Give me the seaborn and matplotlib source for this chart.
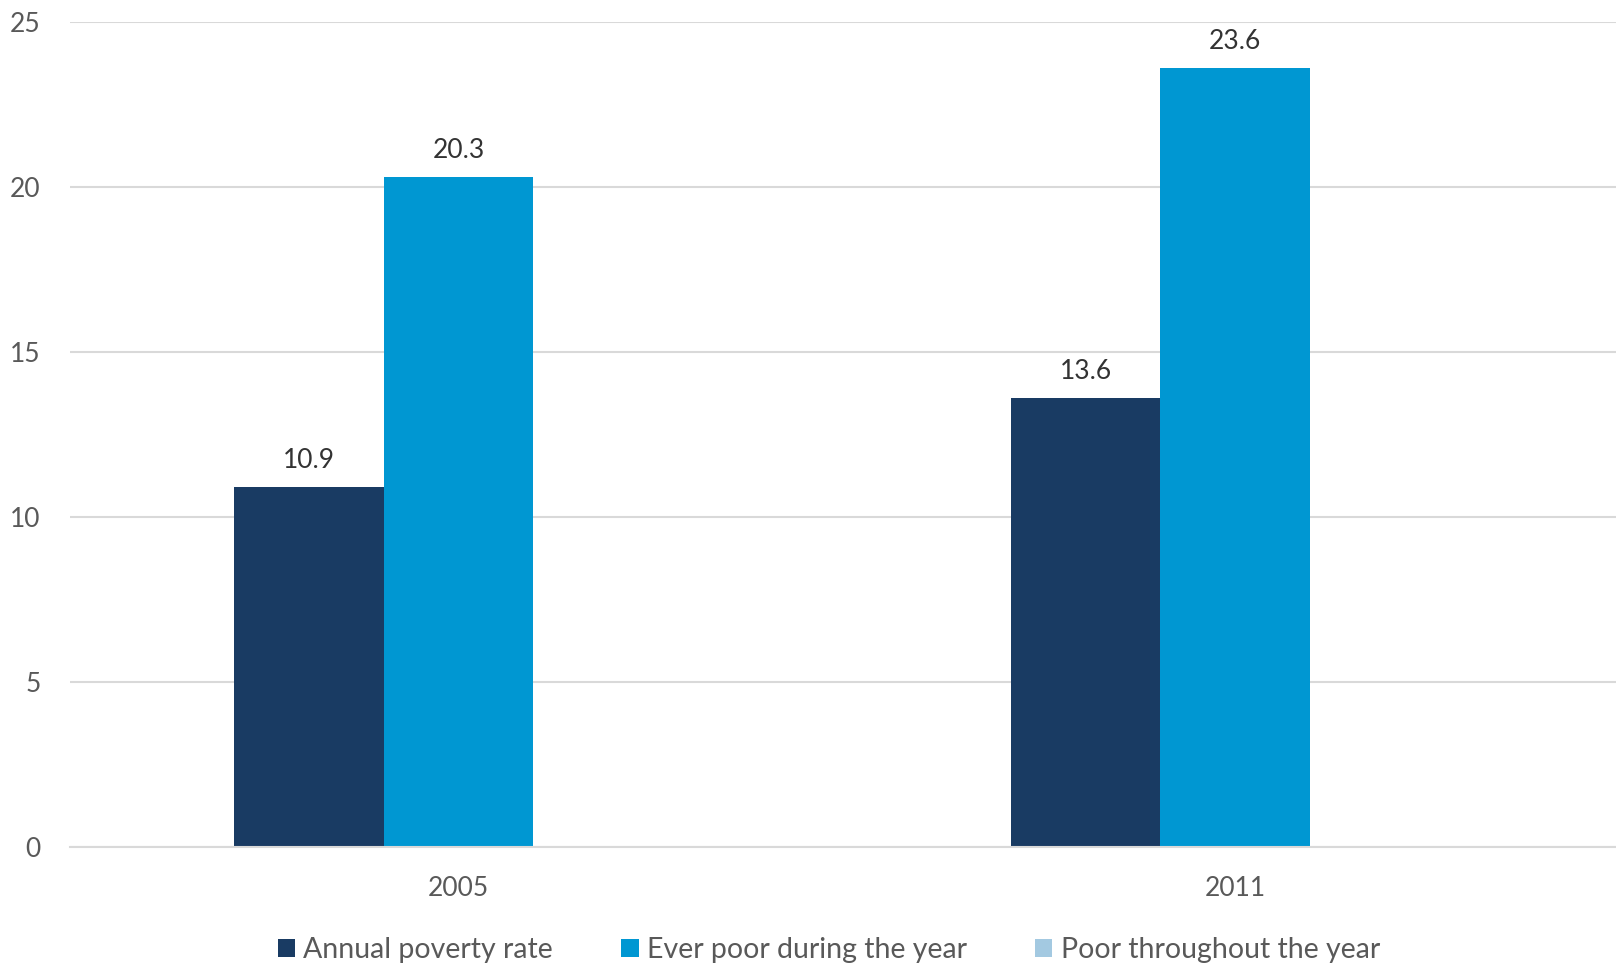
import numpy as np
import pandas as pd
import matplotlib
matplotlib.use("Agg")
import matplotlib.pyplot as plt
import seaborn as sns
from matplotlib.patches import Patch

years = ["2005", "2011"]
series = ["Annual poverty rate", "Ever poor during the year", "Poor throughout the year"]
annual = [10.9, 13.6]
ever_poor = [20.3, 23.6]
throughout = [np.nan, np.nan]
colors = ["#193b63", "#0097d2", "#a3c9e1"]
yticks = [0, 5, 10, 15, 20, 25]

sns.set_theme(style="white")
plt.rcParams["font.family"] = ["Lato", "DejaVu Sans"]

rows = []
for name, vals in zip(series, [annual, ever_poor, throughout]):
    for y, v in zip(years, vals):
        rows.append({"Year": y, "Series": name, "Value": v})
df = pd.DataFrame(rows)

fig = plt.figure(figsize=(16.16, 9.68), dpi=100)
ax = fig.add_axes([0.0433, 0.125, 0.9567, 0.8527])

sns.barplot(data=df, x="Year", y="Value", hue="Series", hue_order=series,
            palette=colors, width=0.578, gap=0, saturation=1, ax=ax,
            legend=False, errorbar=None, edgecolor="none", linewidth=0)

for cont in ax.containers:
    labels = ["" if np.isnan(v) else f"{v:.1f}" for v in cont.datavalues]
    ax.bar_label(cont, labels=labels, padding=10, fontsize=19, color="#333333")

ax.set_ylim(0, 25)
ax.set_xlim(-0.5, 1.49)
ax.set_yticks(yticks)
ax.set_yticklabels([str(t) for t in yticks])
ax.yaxis.grid(True, color="#d9d9d9", linewidth=1.5)
ax.set_axisbelow(True)
for s in ["left", "right", "top"]:
    ax.spines[s].set_visible(False)
ax.spines["bottom"].set_color("#d9d9d9")
ax.spines["bottom"].set_linewidth(1.5)
ax.tick_params(axis="y", length=0, pad=21, labelsize=19, labelcolor="#595959")
ax.tick_params(axis="x", length=0, pad=21, labelsize=19, labelcolor="#595959")
ax.set_xlabel("")
ax.set_ylabel("")

handles = [Patch(facecolor=c, edgecolor="none") for c in colors]
fig.legend(handles, series, loc="center", bbox_to_anchor=(0.513, 0.019), ncol=3,
           frameon=False, fontsize=20.5, labelcolor="#595959", handlelength=0.6,
           handleheight=0.6, handletextpad=0.3, columnspacing=2.4)

fig.savefig("out.png", dpi=100)
